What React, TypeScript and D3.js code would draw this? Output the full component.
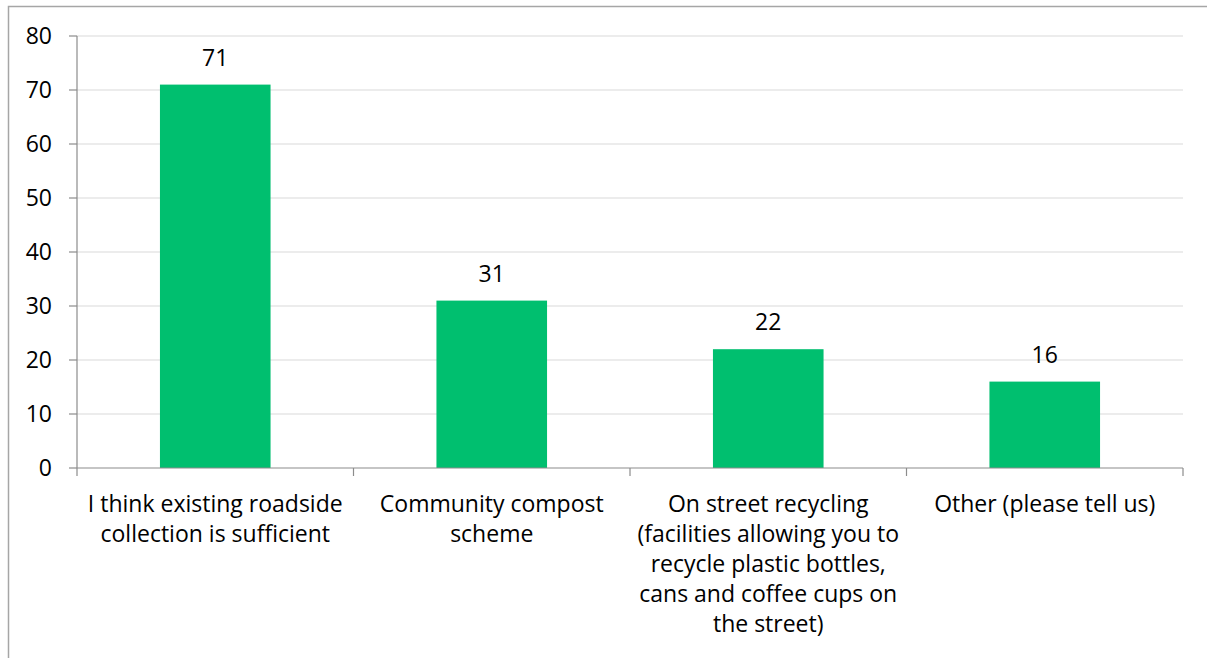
import React from "react";
import * as d3 from "d3";

const categories: string[][] = [
  ["I think existing roadside", "collection is sufficient"],
  ["Community compost", "scheme"],
  ["On street recycling", "(facilities allowing you to", "recycle plastic bottles,", "cans and coffee cups on", "the street)"],
  ["Other (please tell us)"],
];
const values: number[] = [71, 31, 22, 16];
const yTicks: number[] = [0, 10, 20, 30, 40, 50, 60, 70, 80];

const W = 1207;
const H = 658;
const left = 77;
const right = 1183;
const top = 36;
const bottom = 468;
const FONT = "'Open Sans', Lato, sans-serif";
const FS = 23;

export default function App() {
  const x = d3.scaleBand<number>().domain(values.map((_, i) => i)).range([left, right]).padding(0);
  const y = d3.scaleLinear().domain([0, 80]).range([bottom, top]);
  const bw = x.bandwidth() * 0.4;
  const bandEdges = d3.range(values.length + 1).map((i) => left + i * x.step());
  return (
    <svg width={W} height={H} style={{ position: "absolute", left: 0, top: 0 }} fontFamily={FONT}>
      <rect x={0} y={0} width={W} height={H} fill="#fff" />
      <rect x={8.5} y={6.5} width={W + 10} height={H + 10} fill="none" stroke="#a6a6a6" strokeWidth={1.5} />
      {yTicks.filter((t) => t > 0).map((t) => (
        <line key={"g" + t} x1={left} x2={right} y1={y(t)} y2={y(t)} stroke="#d9d9d9" strokeWidth={1.2} />
      ))}
      {values.map((v, i) => (
        <rect key={"b" + i} x={x(i)! + (x.bandwidth() - bw) / 2} y={y(v)} width={bw} height={y(0) - y(v)} fill="#00BF6F" />
      ))}
      <line x1={left} x2={left} y1={top} y2={bottom} stroke="#8c8c8c" strokeWidth={1.2} />
      <line x1={left} x2={right} y1={bottom} y2={bottom} stroke="#8c8c8c" strokeWidth={1.2} />
      {yTicks.map((t) => (
        <g key={"t" + t}>
          <line x1={left - 8} x2={left} y1={y(t)} y2={y(t)} stroke="#8c8c8c" strokeWidth={1.2} />
          <text x={52} y={y(t)} dy="0.36em" textAnchor="end" fontSize={FS} fill="#000">{t}</text>
        </g>
      ))}
      {bandEdges.map((e, i) => (
        <line key={"c" + i} x1={e} x2={e} y1={bottom} y2={bottom + 8} stroke="#8c8c8c" strokeWidth={1.2} />
      ))}
      {values.map((v, i) => (
        <text key={"l" + i} x={x(i)! + x.bandwidth() / 2} y={y(v) - 19} textAnchor="middle" fontSize={FS} fill="#000">{v}</text>
      ))}
      {categories.map((lines, i) => (
        <text key={"x" + i} textAnchor="middle" fontSize={FS} fill="#000">
          {lines.map((ln, j) => (
            <tspan key={j} x={x(i)! + x.bandwidth() / 2} y={512 + j * 30}>{ln}</tspan>
          ))}
        </text>
      ))}
    </svg>
  );
}
